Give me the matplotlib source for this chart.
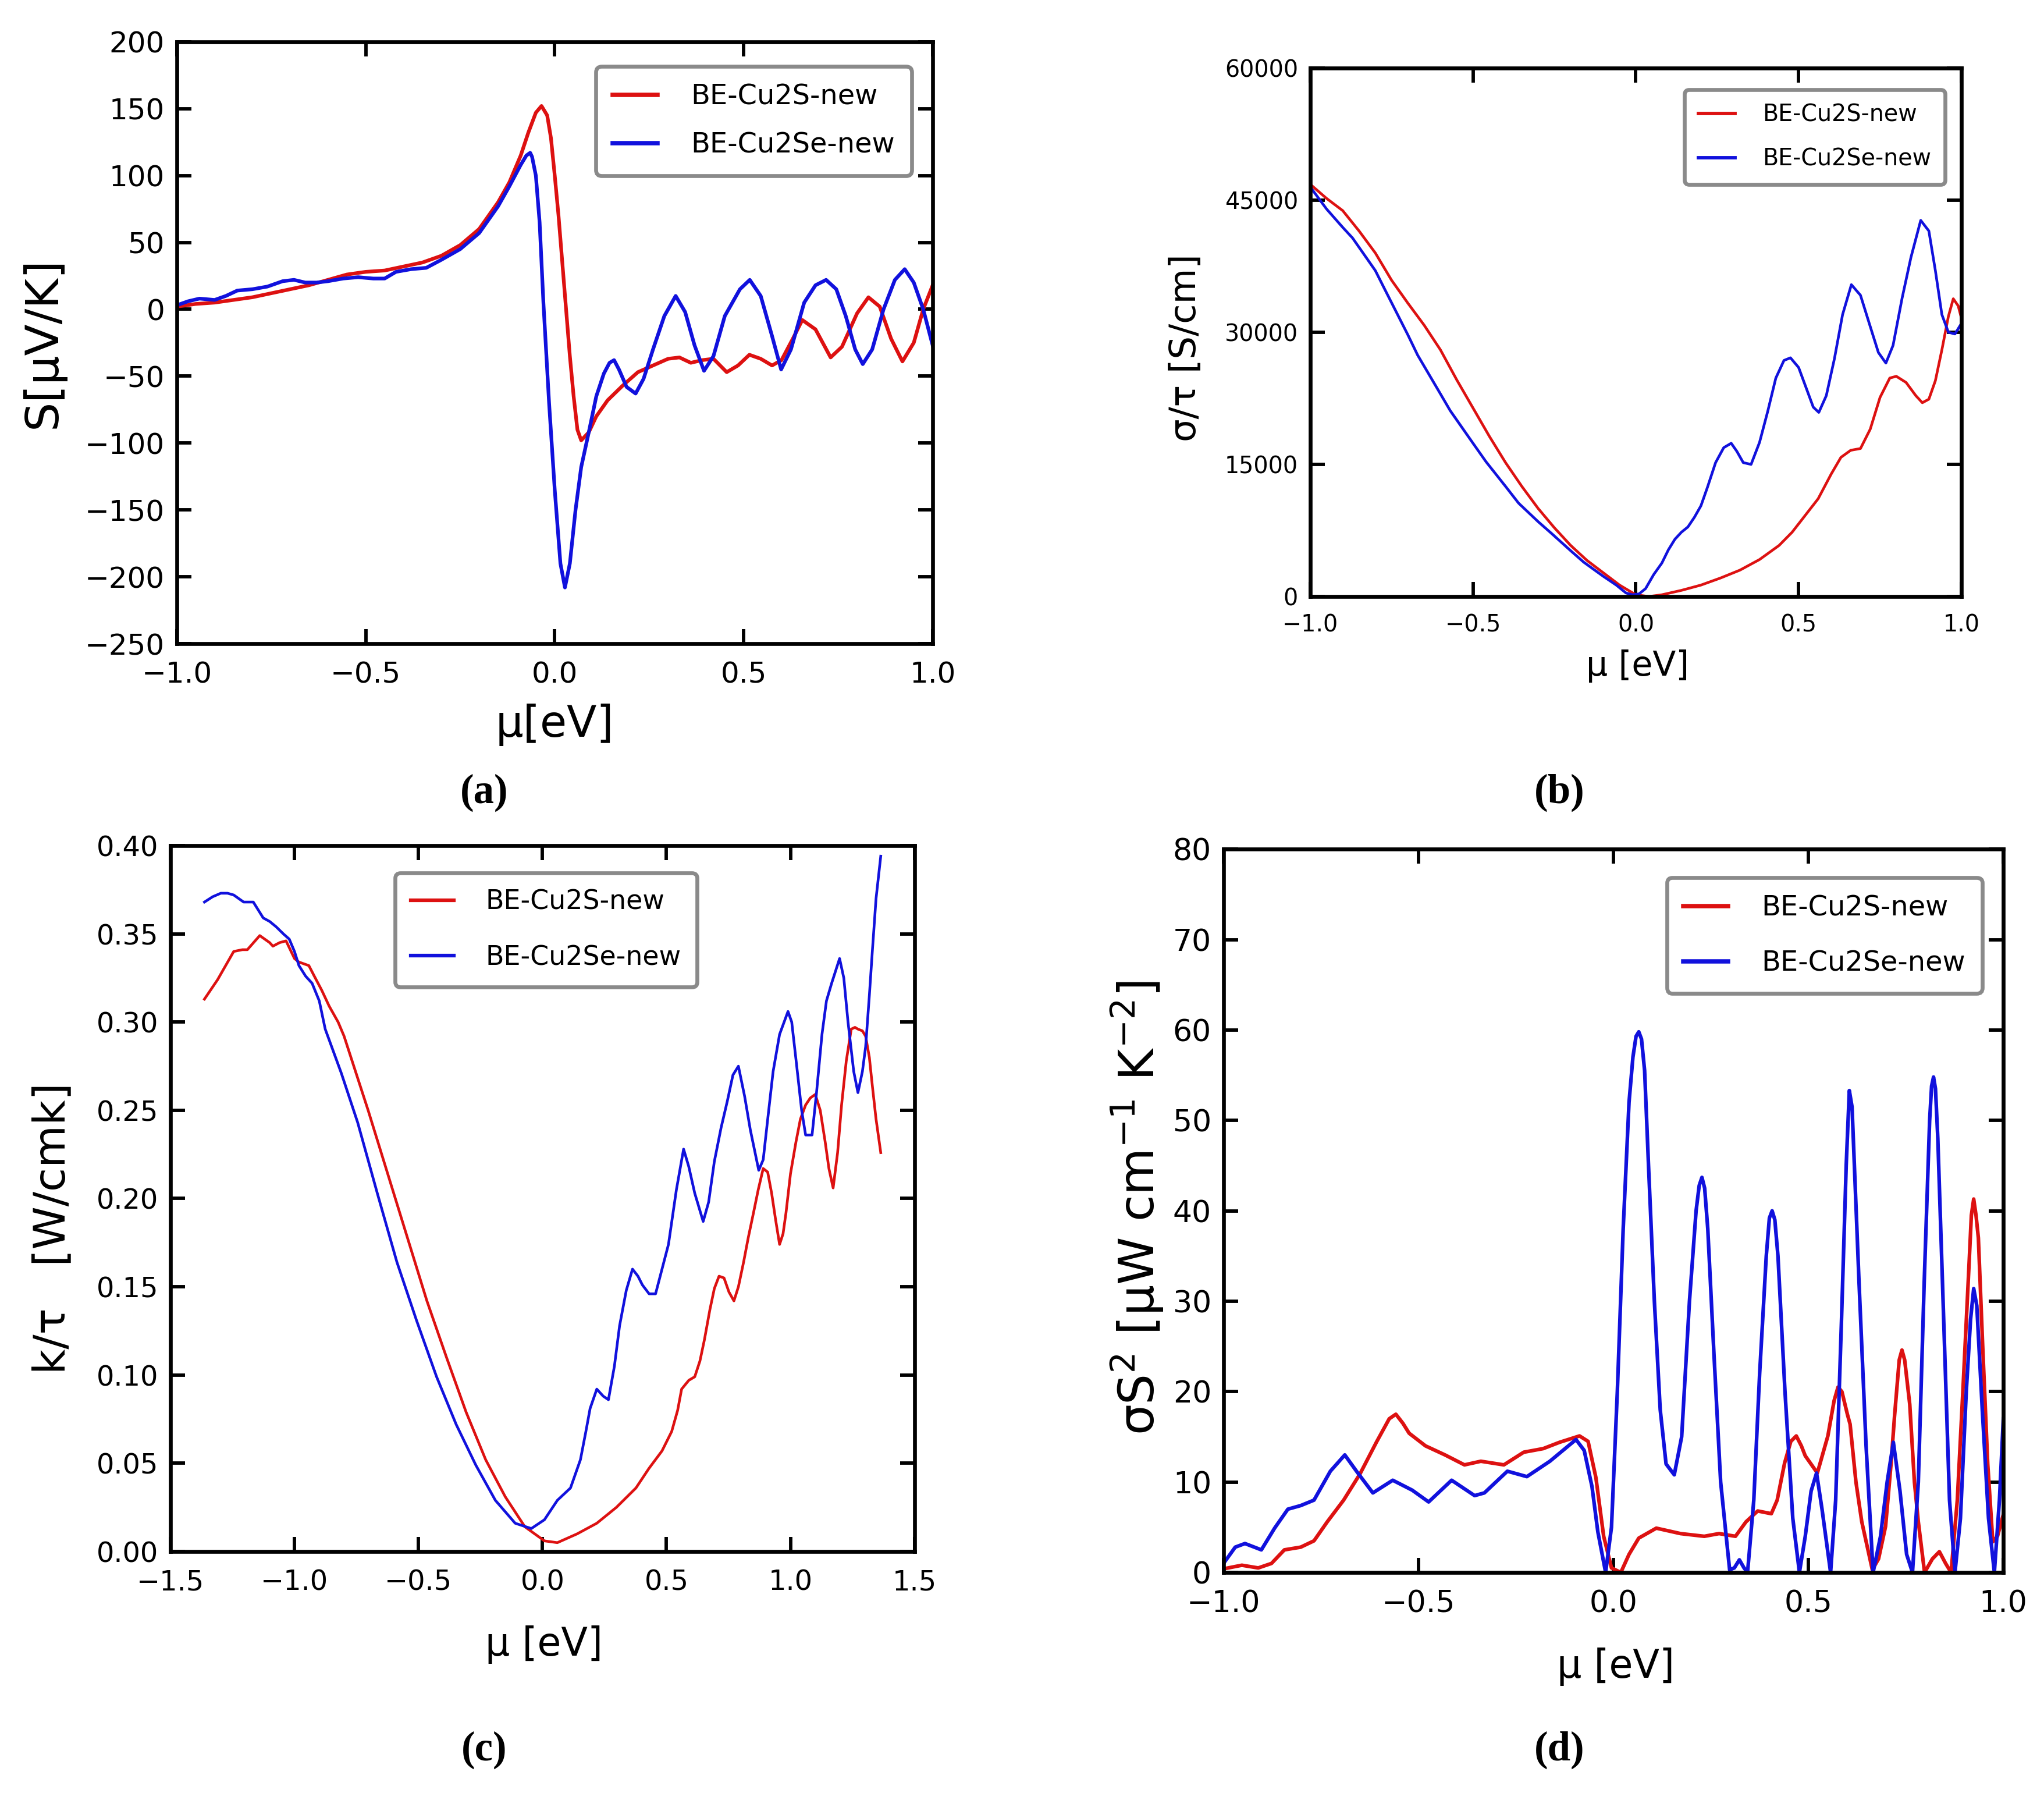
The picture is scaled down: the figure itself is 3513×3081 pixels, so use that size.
import matplotlib
matplotlib.use("Agg")
import matplotlib.pyplot as plt

plt.rcParams['font.family'] = ['DejaVu Sans']
plt.rcParams['mathtext.fontset'] = 'dejavusans'

RED = '#dd1111'
BLUE = '#1111dd'
labels = ['BE-Cu2S-new', 'BE-Cu2Se-new']

# (a) Seebeck coefficient
mu_a_s = [-1.0, -0.95, -0.9, -0.85, -0.8, -0.75, -0.7, -0.65, -0.6, -0.55, -0.5, -0.45, -0.4,
          -0.35, -0.3, -0.25, -0.2, -0.15, -0.12, -0.09, -0.07, -0.05, -0.035, -0.02, -0.01,
          0.0, 0.01, 0.02, 0.03, 0.04, 0.05, 0.06, 0.07, 0.09, 0.11, 0.14, 0.18, 0.22, 0.26,
          0.3, 0.33, 0.36, 0.39, 0.42, 0.455, 0.485, 0.515, 0.545, 0.575, 0.6, 0.63, 0.655,
          0.69, 0.73, 0.76, 0.8, 0.83, 0.86, 0.89, 0.92, 0.95, 0.975, 1.0]
S_cu2s = [2, 4, 5, 7, 9, 12, 15, 18, 22, 26, 28, 29, 32, 35, 40, 48, 60, 80, 95, 115, 132,
          147, 152, 145, 128, 100, 70, 35, 0, -35, -65, -90, -98, -92, -80, -68, -57, -47,
          -42, -37, -36, -40, -38, -37, -47, -42, -34, -37, -42, -38, -22, -8, -15, -36, -28,
          -3, 9, 2, -22, -39, -25, 0, 18]
mu_a_se = [-1.0, -0.97, -0.94, -0.9, -0.87, -0.84, -0.8, -0.76, -0.72, -0.69, -0.66, -0.63,
           -0.6, -0.56, -0.52, -0.48, -0.45, -0.42, -0.38, -0.34, -0.3, -0.25, -0.2, -0.15,
           -0.12, -0.09, -0.075, -0.065, -0.06, -0.05, -0.04, -0.03, -0.015, 0.0, 0.015,
           0.027, 0.04, 0.055, 0.07, 0.09, 0.11, 0.13, 0.145, 0.157, 0.17, 0.19, 0.214, 0.235,
           0.26, 0.29, 0.32, 0.345, 0.37, 0.395, 0.42, 0.45, 0.49, 0.516, 0.545, 0.575, 0.599,
           0.625, 0.66, 0.69, 0.718, 0.745, 0.77, 0.795, 0.815, 0.84, 0.87, 0.9, 0.926, 0.95,
           0.975, 1.0]
S_cu2se = [3, 6, 8, 7, 10, 14, 15, 17, 21, 22, 20, 20, 21, 23, 24, 23, 23, 28, 30, 31, 37,
           45, 57, 77, 92, 108, 115, 117, 114, 100, 65, 5, -70, -135, -190, -208, -190, -150,
           -118, -92, -65, -48, -40, -38, -45, -58, -63, -52, -30, -5, 10, -2, -27, -46, -35,
           -5, 15, 22, 10, -20, -45, -30, 5, 18, 22, 15, -5, -30, -41, -30, 0, 22, 30, 20, 0,
           -27]

# (b) electrical conductivity / tau
mu_b_s = [-1.0, -0.95, -0.9, -0.85, -0.8, -0.75, -0.7, -0.65, -0.6, -0.55, -0.5, -0.45,
          -0.4, -0.35, -0.3, -0.25, -0.2, -0.15, -0.1, -0.05, 0.0, 0.04, 0.08, 0.14, 0.2,
          0.26, 0.32, 0.38, 0.44, 0.48, 0.52, 0.56, 0.6, 0.63, 0.66, 0.69, 0.72, 0.75, 0.78,
          0.8, 0.83, 0.86, 0.88, 0.9, 0.92, 0.94, 0.96, 0.975, 0.99, 1.0]
sig_cu2s = [46800, 45200, 43800, 41500, 39000, 35900, 33300, 30800, 28000, 24600, 21400,
            18200, 15200, 12500, 10000, 7800, 5800, 4100, 2700, 1300, 200, 0, 200, 700, 1300,
            2100, 3000, 4200, 5800, 7300, 9200, 11100, 13900, 15800, 16600, 16800, 19000,
            22600, 24800, 25000, 24300, 22800, 22000, 22400, 24500, 28000, 31800, 33800, 33000,
            31600]
mu_b_se = [-1.0, -0.95, -0.9, -0.87, -0.8, -0.77, -0.7, -0.67, -0.6, -0.57, -0.5, -0.46,
           -0.4, -0.36, -0.3, -0.26, -0.2, -0.16, -0.1, -0.06, -0.03, -0.01, 0.01, 0.03, 0.055,
           0.08, 0.1, 0.12, 0.14, 0.16, 0.18, 0.2, 0.22, 0.245, 0.27, 0.293, 0.31, 0.33, 0.354,
           0.38, 0.405, 0.43, 0.455, 0.475, 0.5, 0.525, 0.545, 0.562, 0.585, 0.61, 0.635,
           0.662, 0.69, 0.717, 0.745, 0.768, 0.79, 0.818, 0.845, 0.875, 0.9, 0.92, 0.94, 0.96,
           0.98, 1.0]
sig_cu2se = [46500, 44000, 41900, 40700, 37000, 34800, 29700, 27400, 23000, 21100, 17400,
             15300, 12500, 10600, 8500, 7200, 5200, 3900, 2300, 1300, 400, 200, 300, 900,
             2500, 3800, 5300, 6500, 7300, 7900, 9000, 10300, 12400, 15200, 16900, 17400,
             16500, 15200, 15000, 17500, 21000, 24800, 26800, 27100, 26000, 23500, 21500,
             20900, 22800, 27000, 32000, 35400, 34200, 31000, 27700, 26500, 28500, 33900,
             38500, 42700, 41500, 37000, 32000, 30000, 29800, 31000]

# (c) electronic thermal conductivity / tau
mu_c_s = [-1.363, -1.31, -1.245, -1.21, -1.19, -1.14, -1.1, -1.087, -1.06, -1.034, -1.0,
          -0.982, -0.942, -0.92, -0.89, -0.86, -0.824, -0.8, -0.77, -0.703, -0.624, -0.545,
          -0.466, -0.387, -0.308, -0.229, -0.15, -0.071, 0.008, 0.06, 0.14, 0.219, 0.298,
          0.377, 0.429, 0.482, 0.521, 0.545, 0.561, 0.59, 0.614, 0.635, 0.653, 0.675, 0.693,
          0.712, 0.732, 0.752, 0.772, 0.79, 0.811, 0.83, 0.851, 0.87, 0.89, 0.908, 0.924,
          0.94, 0.956, 0.97, 0.982, 1.0, 1.022, 1.04, 1.061, 1.08, 1.1, 1.12, 1.14, 1.155,
          1.172, 1.19, 1.206, 1.225, 1.245, 1.26, 1.272, 1.29, 1.303, 1.318, 1.33, 1.345,
          1.364]
k_cu2s = [0.313, 0.324, 0.340, 0.341, 0.341, 0.349, 0.345, 0.343, 0.345, 0.346, 0.336,
          0.334, 0.332, 0.326, 0.318, 0.309, 0.300, 0.292, 0.279, 0.250, 0.214, 0.178, 0.142,
          0.110, 0.079, 0.052, 0.031, 0.014, 0.006, 0.005, 0.010, 0.016, 0.025, 0.036, 0.047,
          0.057, 0.068, 0.080, 0.092, 0.097, 0.099, 0.108, 0.120, 0.137, 0.149, 0.156, 0.155,
          0.147, 0.142, 0.150, 0.164, 0.178, 0.192, 0.205, 0.217, 0.215, 0.203, 0.188, 0.174,
          0.180, 0.192, 0.214, 0.232, 0.245, 0.253, 0.257, 0.259, 0.250, 0.232, 0.217, 0.206,
          0.226, 0.253, 0.278, 0.296, 0.297, 0.296, 0.295, 0.292, 0.280, 0.264, 0.245, 0.226]
mu_c_se = [-1.363, -1.33, -1.297, -1.27, -1.245, -1.205, -1.166, -1.126, -1.1, -1.074,
           -1.045, -1.021, -1.0, -0.982, -0.955, -0.929, -0.9, -0.876, -0.811, -0.745,
           -0.666, -0.587, -0.508, -0.427, -0.348, -0.269, -0.19, -0.11, -0.045, 0.008, 0.06,
           0.113, 0.153, 0.175, 0.192, 0.219, 0.245, 0.266, 0.29, 0.311, 0.338, 0.363, 0.385,
           0.403, 0.43, 0.456, 0.482, 0.508, 0.54, 0.569, 0.59, 0.614, 0.648, 0.67, 0.693,
           0.72, 0.745, 0.768, 0.79, 0.815, 0.838, 0.872, 0.89, 0.909, 0.93, 0.956, 0.99,
           1.005, 1.022, 1.045, 1.061, 1.087, 1.105, 1.127, 1.145, 1.166, 1.198, 1.215,
           1.232, 1.255, 1.272, 1.29, 1.303, 1.318, 1.33, 1.345, 1.364]
k_cu2se = [0.368, 0.371, 0.373, 0.373, 0.372, 0.368, 0.368, 0.359, 0.357, 0.354, 0.350,
           0.347, 0.340, 0.332, 0.326, 0.322, 0.312, 0.296, 0.271, 0.243, 0.203, 0.164,
           0.131, 0.099, 0.072, 0.049, 0.029, 0.016, 0.013, 0.018, 0.029, 0.036, 0.052,
           0.068, 0.081, 0.092, 0.088, 0.086, 0.105, 0.128, 0.148, 0.160, 0.156, 0.151,
           0.146, 0.146, 0.160, 0.174, 0.205, 0.228, 0.218, 0.203, 0.187, 0.198, 0.221,
           0.240, 0.255, 0.270, 0.275, 0.258, 0.239, 0.216, 0.222, 0.246, 0.272, 0.293,
           0.306, 0.300, 0.279, 0.250, 0.236, 0.236, 0.260, 0.293, 0.312, 0.322, 0.336,
           0.325, 0.300, 0.272, 0.260, 0.272, 0.286, 0.315, 0.340, 0.370, 0.394]

# (d) power factor
mu_d_s = [-1.0, -0.953, -0.911, -0.877, -0.844, -0.802, -0.768, -0.734, -0.692, -0.65,
          -0.608, -0.575, -0.558, -0.54, -0.524, -0.482, -0.432, -0.382, -0.34, -0.281,
          -0.23, -0.18, -0.138, -0.087, -0.065, -0.045, -0.025, -0.005, 0.019, 0.04, 0.065,
          0.11, 0.172, 0.233, 0.271, 0.313, 0.34, 0.37, 0.405, 0.42, 0.439, 0.455, 0.469,
          0.482, 0.492, 0.523, 0.55, 0.566, 0.576, 0.586, 0.6, 0.607, 0.622, 0.637, 0.664,
          0.68, 0.698, 0.712, 0.721, 0.733, 0.74, 0.747, 0.76, 0.772, 0.782, 0.798, 0.818,
          0.836, 0.852, 0.866, 0.882, 0.897, 0.912, 0.918, 0.924, 0.93, 0.936, 0.947, 0.96,
          0.973, 0.985, 1.0]
pf_cu2s = [0.4, 0.8, 0.5, 1.0, 2.5, 2.8, 3.5, 5.6, 8.0, 10.9, 14.4, 17.0, 17.5, 16.5, 15.4,
           14.0, 13.0, 11.9, 12.3, 11.9, 13.3, 13.7, 14.4, 15.1, 14.5, 10.5, 4.0, 0.5, 0.0,
           2.0, 3.8, 4.9, 4.3, 4.0, 4.3, 4.0, 5.6, 6.8, 6.5, 8.0, 12.1, 14.5, 15.1, 14.0,
           12.9, 11.0, 15.1, 19.0, 20.5, 20.0, 17.5, 16.4, 10.0, 5.6, 0.3, 1.5, 5.1, 12.0,
           17.3, 23.5, 24.6, 23.5, 18.6, 10.0, 5.6, 0.0, 1.5, 2.3, 1.0, 0.0, 8.0, 20.7, 34.0,
           39.5, 41.3, 39.5, 37.0, 25.1, 12.0, 3.4, 4.0, 6.4]
mu_d_se = [-1.0, -0.97, -0.945, -0.903, -0.869, -0.835, -0.802, -0.768, -0.726, -0.689,
           -0.659, -0.617, -0.566, -0.516, -0.474, -0.415, -0.356, -0.331, -0.272, -0.222,
           -0.163, -0.096, -0.075, -0.055, -0.04, -0.02, -0.005, 0.01, 0.025, 0.04, 0.05,
           0.058, 0.065, 0.072, 0.08, 0.09, 0.105, 0.12, 0.135, 0.156, 0.175, 0.195, 0.212,
           0.22, 0.227, 0.234, 0.242, 0.258, 0.275, 0.298, 0.31, 0.323, 0.335, 0.344, 0.36,
           0.375, 0.392, 0.4, 0.407, 0.414, 0.422, 0.44, 0.46, 0.477, 0.492, 0.507, 0.521,
           0.535, 0.557, 0.57, 0.585, 0.597, 0.605, 0.612, 0.63, 0.648, 0.666, 0.685, 0.702,
           0.718, 0.735, 0.752, 0.767, 0.782, 0.797, 0.811, 0.816, 0.821, 0.826, 0.832,
           0.847, 0.862, 0.876, 0.89, 0.905, 0.916, 0.924, 0.932, 0.946, 0.962, 0.977, 0.99,
           1.0]
pf_cu2se = [1.0, 2.8, 3.2, 2.5, 4.9, 7.0, 7.4, 8.0, 11.2, 13.0, 11.2, 8.8, 10.2, 9.1, 7.8,
            10.2, 8.5, 8.8, 11.2, 10.6, 12.3, 14.7, 13.5, 9.5, 4.5, 0.0, 5.0, 20.0, 38.0,
            52.0, 57.0, 59.3, 59.8, 59.0, 55.5, 45.0, 30.0, 18.0, 12.0, 10.8, 15.0, 30.0,
            40.0, 42.8, 43.7, 42.5, 38.0, 24.0, 10.0, 0.3, 0.5, 1.4, 0.5, 0.0, 8.0, 22.0,
            35.0, 39.2, 40.0, 39.0, 35.0, 20.0, 6.0, 0.0, 4.0, 9.0, 11.0, 7.0, 0.0, 8.0, 28.0,
            45.0, 53.3, 51.5, 32.0, 14.0, 0.0, 4.0, 10.0, 14.4, 9.0, 2.0, 0.0, 10.0, 32.0,
            50.0, 53.8, 54.8, 53.5, 48.0, 28.0, 8.0, 0.0, 6.0, 20.0, 28.0, 31.4, 29.5, 18.0,
            6.0, 0.0, 8.0, 17.0]


def style_axes(ax, tick_size):
    for sp in ax.spines.values():
        sp.set_linewidth(1.6)
    ax.tick_params(direction='in', top=True, right=True, length=6, width=1.4,
                   labelsize=tick_size, pad=5)
    ax.tick_params(axis='x', pad=7)


def add_legend(ax, anchor, size, spacing, lw):
    leg = ax.legend(loc='upper right', bbox_to_anchor=anchor, borderaxespad=0,
                    fontsize=size, handlelength=1.6, handletextpad=1.2,
                    labelspacing=spacing, borderpad=0.6, fancybox=True, framealpha=1)
    leg.get_frame().set_edgecolor('#8a8a8a')
    leg.get_frame().set_linewidth(1.6)
    for ln in leg.get_lines():
        ln.set_linewidth(lw)
    return leg


fig = plt.figure(figsize=(3513 / 300, 3081 / 300), dpi=300)

# (a)
ax = fig.add_axes([0.0865, 0.641, 0.3698, 0.3357])
ax.plot(mu_a_s, S_cu2s, color=RED, lw=1.5, label=labels[0])
ax.plot(mu_a_se, S_cu2se, color=BLUE, lw=1.5, label=labels[1])
ax.set_xlim(-1, 1)
ax.set_ylim(-250, 200)
ax.set_xticks([-1.0, -0.5, 0.0, 0.5, 1.0])
ax.set_yticks(range(-250, 201, 50))
style_axes(ax, 12)
ax.set_xlabel('μ[eV]', fontsize=18, va='center')
ax.set_ylabel('S[μV/K]', fontsize=19, va='center')
ax.xaxis.set_label_coords(0.5, -0.135)
ax.yaxis.set_label_coords(-0.177, 0.5)
add_legend(ax, (0.972, 0.959), 11.5, 0.75, 1.8)

# (b)
ax = fig.add_axes([0.641, 0.6673, 0.3186, 0.2948])
ax.plot(mu_b_s, sig_cu2s, color=RED, lw=1.1, label=labels[0])
ax.plot(mu_b_se, sig_cu2se, color=BLUE, lw=1.1, label=labels[1])
ax.set_xlim(-1, 1)
ax.set_ylim(0, 60000)
ax.set_xticks([-1.0, -0.5, 0.0, 0.5, 1.0])
ax.set_yticks(range(0, 60001, 15000))
style_axes(ax, 9.5)
ax.set_xlabel('μ [eV]', fontsize=14, va='center')
ax.set_ylabel('σ/τ [S/cm]', fontsize=15, va='center')
ax.xaxis.set_label_coords(0.503, -0.131)
ax.yaxis.set_label_coords(-0.191, 0.471)
add_legend(ax, (0.975, 0.959), 9.5, 0.9, 1.4)

# (c)
ax = fig.add_axes([0.0834, 0.1347, 0.364, 0.3937])
ax.plot(mu_c_s, k_cu2s, color=RED, lw=1.1, label=labels[0])
ax.plot(mu_c_se, k_cu2se, color=BLUE, lw=1.1, label=labels[1])
ax.set_xlim(-1.5, 1.5)
ax.set_ylim(0, 0.40)
ax.set_xticks([-1.5, -1.0, -0.5, 0.0, 0.5, 1.0, 1.5])
ax.set_yticks([i * 0.05 for i in range(9)])
ax.yaxis.set_major_formatter(matplotlib.ticker.FormatStrFormatter('%.2f'))
style_axes(ax, 11.5)
ax.set_xlabel('μ [eV]', fontsize=16, va='center')
ax.set_ylabel('k/τ   [W/cmk]', fontsize=18, va='center')
ax.xaxis.set_label_coords(0.502, -0.132)
ax.yaxis.set_label_coords(-0.158, 0.458)
add_legend(ax, (0.708, 0.961), 11, 1.1, 1.5)

# (d)
ax = fig.add_axes([0.5986, 0.123, 0.3815, 0.4034])
ax.plot(mu_d_s, pf_cu2s, color=RED, lw=1.5, label=labels[0])
ax.plot(mu_d_se, pf_cu2se, color=BLUE, lw=1.5, label=labels[1])
ax.set_xlim(-1, 1)
ax.set_ylim(0, 80)
ax.set_xticks([-1.0, -0.5, 0.0, 0.5, 1.0])
ax.set_yticks(range(0, 81, 10))
style_axes(ax, 12.5)
ax.set_xlabel('μ [eV]', fontsize=16, va='center')
ax.set_ylabel(r'σS$^2$ [μW cm$^{-1}$ K$^{-2}$]', fontsize=20, va='center')
ax.xaxis.set_label_coords(0.503, -0.130)
ax.yaxis.set_label_coords(-0.111, 0.504)
add_legend(ax, (0.973, 0.961), 11.5, 1.0, 1.8)

# panel letters
for x, y, t in [(0.237, 0.558, '(a)'), (0.763, 0.558, '(b)'),
                (0.237, 0.024, '(c)'), (0.763, 0.024, '(d)')]:
    fig.text(x, y, t, ha='center', va='center', fontsize=17,
             family='Liberation Serif', fontweight='bold')

fig.savefig('out.png', dpi=300)
